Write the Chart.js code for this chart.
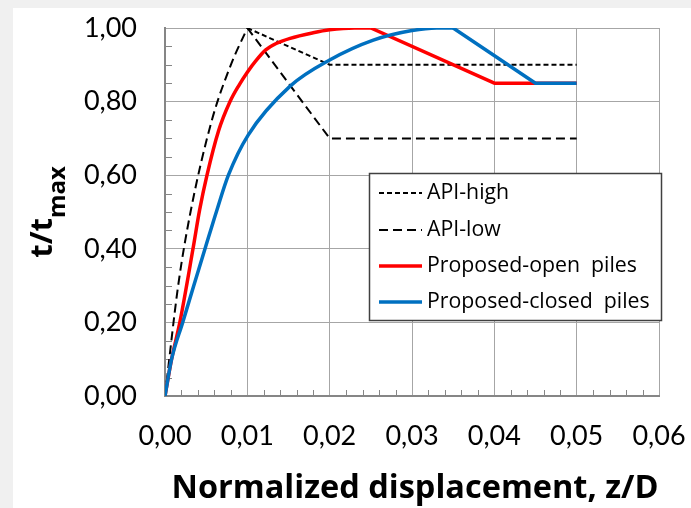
<!DOCTYPE html>
<html><head><meta charset="utf-8">
<script src="https://cdn.jsdelivr.net/npm/chart.js@4/dist/chart.umd.min.js"></script>
<style>html,body{margin:0;padding:0;background:#f0f0f0;}canvas{display:block;}</style>
</head><body>
<canvas id="c" width="691" height="508" style="width:691px;height:508px"></canvas>
<script>
// ---- data ----
const seriesNames = ['API-high', 'API-low', 'Proposed-open  piles', 'Proposed-closed  piles'];

// API curve (shared rising part), then the two softening branches
const apiRiseZ = [0, 0.0016, 0.0031, 0.0057, 0.008, 0.010];
const apiRiseT = [0, 0.30, 0.50, 0.75, 0.90, 1.00];
const apiHighZ = [0.010, 0.020, 0.050];
const apiHighT = [1.00, 0.90, 0.90];
const apiLowZ  = [0.010, 0.020, 0.050];
const apiLowT  = [1.00, 0.70, 0.70];

// Proposed - open piles
const openRiseZ = [0, 0.0008, 0.0018, 0.0034, 0.0042, 0.0051, 0.0065, 0.0079, 0.0090, 0.0100, 0.0110, 0.0122, 0.0135, 0.0152, 0.0180, 0.0200, 0.0230, 0.0250];
const openRiseT = [0, 0.10, 0.20, 0.40, 0.505, 0.60, 0.72, 0.80, 0.845, 0.88, 0.91, 0.94, 0.958, 0.972, 0.987, 0.995, 1.00, 1.00];
const openTailZ = [0.025, 0.040, 0.050];
const openTailT = [1.00, 0.85, 0.85];

// Proposed - closed piles
const closedRiseZ = [0, 0.0008, 0.00215, 0.0035, 0.00486, 0.0063, 0.0077, 0.0101, 0.0152, 0.0200, 0.0253, 0.0300, 0.0330, 0.0350];
const closedRiseT = [0, 0.10, 0.20, 0.30, 0.40, 0.505, 0.60, 0.709, 0.842, 0.913, 0.967, 0.993, 1.00, 1.00];
const closedTailZ = [0.035, 0.045, 0.050];
const closedTailT = [1.00, 0.85, 0.85];

// axis ticks
const xTicks = [0, 0.01, 0.02, 0.03, 0.04, 0.05, 0.06];
const yTicks = [0, 0.2, 0.4, 0.6, 0.8, 1.0];
const xTitle = 'Normalized displacement, z/D';
const yTitleMain = 't/t';
const yTitleSub = 'max';

// ---- helpers ----
const zip = (xs, ys) => xs.map((x, i) => ({x: x, y: ys[i]}));
const fmt = v => v.toFixed(2).replace('.', ',');
const FONT = 'Lato, "Open Sans", sans-serif';
const FONT2 = '"Open Sans", Lato, sans-serif';

const styles = [
  {color: '#000000', width: 2, dash: [5, 3]},
  {color: '#000000', width: 2, dash: [9, 5]},
  {color: '#ff0000', width: 3.5, dash: []},
  {color: '#0070c0', width: 3.5, dash: []}
];

function ds(idx, data, mono, order) {
  const s = styles[idx];
  return {
    label: seriesNames[idx], data: data, showLine: true, fill: false,
    borderColor: s.color, backgroundColor: s.color, borderWidth: s.width,
    borderDash: s.dash, pointRadius: 0, pointHoverRadius: 0,
    tension: 0, cubicInterpolationMode: mono ? 'monotone' : 'default',
    borderCapStyle: 'butt', borderJoinStyle: 'round', order: order
  };
}

const datasets = [
  ds(3, zip(closedRiseZ, closedRiseT), true, 0),
  ds(3, zip(closedTailZ, closedTailT), false, 0),
  ds(2, zip(openRiseZ, openRiseT), true, 1),
  ds(2, zip(openTailZ, openTailT), false, 1),
  ds(0, zip(apiHighZ, apiHighT), false, 2),
  ds(1, zip(apiLowZ, apiLowT), false, 2),
  ds(1, zip(apiRiseZ, apiRiseT), true, 2)
];

const deco = {
  id: 'deco',
  beforeDraw(chart) {
    const ctx = chart.ctx;
    ctx.save();
    ctx.fillStyle = '#f0f0f0';
    ctx.fillRect(0, 0, chart.width, chart.height);
    ctx.fillStyle = '#ffffff';
    ctx.fillRect(13, 8, chart.width - 13, chart.height - 8);
    ctx.restore();
  },
  beforeDatasetsDraw(chart) {
    const ctx = chart.ctx, xs = chart.scales.x, ys = chart.scales.y;
    ctx.save();
    ctx.strokeStyle = '#868686';
    ctx.lineWidth = 1;
    ctx.beginPath();
    for (let i = 1; i < 30; i++) {
      if (i % 5 === 0) continue;
      const px = Math.round(xs.getPixelForValue(i * 0.002)) + 0.5;
      ctx.moveTo(px, ys.bottom); ctx.lineTo(px, ys.bottom - 6);
    }
    for (let i = 1; i < 20; i++) {
      if (i % 4 === 0) continue;
      const py = Math.round(ys.getPixelForValue(i * 0.05)) + 0.5;
      ctx.moveTo(xs.left, py); ctx.lineTo(xs.left + 7, py);
    }
    ctx.stroke();
    ctx.restore();
  },
  afterDraw(chart) {
    const ctx = chart.ctx, ca = chart.chartArea;
    ctx.save();
    // x title
    ctx.fillStyle = '#000';
    ctx.font = 'bold 32.5px ' + FONT2;
    ctx.textAlign = 'center';
    ctx.textBaseline = 'alphabetic';
    ctx.fillText(xTitle, (ca.left + ca.right) / 2 + 3, 498);
    // y title with subscript
    ctx.font = 'bold 31px ' + FONT2;
    const wMain = ctx.measureText(yTitleMain).width;
    ctx.font = 'bold 24px ' + FONT2;
    const wSub = ctx.measureText(yTitleSub).width;
    const total = wMain + wSub;
    ctx.translate(52, 212 + total / 2);
    ctx.rotate(-Math.PI / 2);
    ctx.textAlign = 'left';
    ctx.font = 'bold 31px ' + FONT2;
    ctx.fillText(yTitleMain, 0, 0);
    ctx.font = 'bold 24px ' + FONT2;
    ctx.fillText(yTitleSub, wMain, 13);
    ctx.restore();

    // legend
    ctx.save();
    const bx = 369.5, by = 173.5, bw = 292, bh = 147;
    ctx.fillStyle = '#ffffff';
    ctx.fillRect(bx, by, bw, bh);
    ctx.strokeStyle = '#404040';
    ctx.lineWidth = 1.5;
    ctx.strokeRect(bx, by, bw, bh);
    const rows = [193, 230, 266, 302];
    ctx.font = '21.3px ' + FONT2;
    ctx.textBaseline = 'middle';
    ctx.textAlign = 'left';
    seriesNames.forEach((name, i) => {
      const s = styles[i];
      ctx.beginPath();
      ctx.strokeStyle = s.color;
      ctx.lineWidth = s.width;
      ctx.setLineDash(s.dash);
      ctx.moveTo(379, rows[i]);
      ctx.lineTo(422, rows[i]);
      ctx.stroke();
      ctx.setLineDash([]);
      ctx.fillStyle = '#000';
      ctx.fillText(name, 427, rows[i]);
    });
    ctx.restore();
  }
};

new Chart(document.getElementById('c'), {
  type: 'scatter',
  data: {datasets: datasets},
  options: {
    responsive: false, animation: false, devicePixelRatio: 1,
    layout: {padding: {top: 28, right: 32, left: 0, bottom: 0}},
    plugins: {legend: {display: false}, tooltip: {enabled: false}},
    events: [],
    scales: {
      x: {
        type: 'linear', min: 0, max: 0.06,
        afterFit: s => { s.height = 112; s.paddingLeft = 0; s.paddingRight = 0; },
        afterBuildTicks: s => { s.ticks = xTicks.map(v => ({value: v})); },
        grid: {color: '#a6a6a6', lineWidth: 1, drawTicks: false},
        border: {color: '#868686', width: 2},
        ticks: {callback: v => fmt(v), color: '#000', font: {family: FONT, size: 27}, padding: 24, maxRotation: 0, autoSkip: false}
      },
      y: {
        type: 'linear', min: 0, max: 1,
        afterFit: s => { s.width = 165; s.paddingTop = 0; s.paddingBottom = 0; },
        afterBuildTicks: s => { s.ticks = yTicks.map(v => ({value: v})); },
        grid: {color: '#a6a6a6', lineWidth: 1, drawTicks: false},
        border: {color: '#868686', width: 2},
        ticks: {callback: v => fmt(v), color: '#000', font: {family: FONT, size: 27}, padding: 28}
      }
    }
  },
  plugins: [deco]
});
</script>
</body></html>
